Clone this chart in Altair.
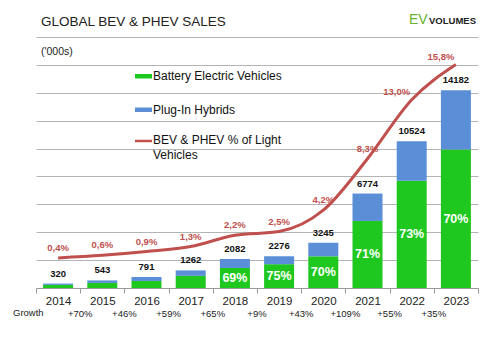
import altair as alt
import pandas as pd

years = ["2014", "2015", "2016", "2017", "2018", "2019", "2020", "2021", "2022", "2023"]
totals = [320, 543, 791, 1262, 2082, 2276, 3245, 6774, 10524, 14182]
bev_share = [0.70, 0.67, 0.64, 0.69, 0.69, 0.75, 0.70, 0.71, 0.73, 0.70]
share_labels = ["", "", "", "", "69%", "75%", "70%", "71%", "73%", "70%"]
ev_pct = [0.4, 0.6, 0.9, 1.3, 2.2, 2.5, 4.2, 8.3, 13.0, 15.8]
ev_pct_labels = ["0,4%", "0,6%", "0,9%", "1,3%", "2,2%", "2,5%", "4,2%", "8,3%", "13,0%", "15,8%"]
growth = ["", "+70%", "+46%", "+59%", "+65%", "+9%", "+43%", "+109%", "+55%", "+35%"]
series = ["Battery Electric Vehicles", "Plug-In Hybrids", "BEV & PHEV % of Light\nVehicles"]

GREEN = "#1ec81e"
BLUE = "#5a8ed6"
RED = "#c0504d"
FONT = "Liberation Sans"

bev = [round(t * s) for t, s in zip(totals, bev_share)]
phev = [t - b for t, b in zip(totals, bev)]

stack_df = pd.DataFrame({
    "year": years * 2,
    "series": [series[0]] * len(years) + [series[1]] * len(years),
    "value": bev + phev,
    "order": [0] * len(years) + [1] * len(years),
})
df = pd.DataFrame({
    "year": years, "total": totals, "bev_mid": [b / 2 for b in bev],
    "share": share_labels, "pct": ev_pct, "pct_label": ev_pct_labels, "growth": growth,
})

xenc = alt.X("year:O", title=None,
             scale=alt.Scale(paddingInner=0, paddingOuter=0),
             axis=alt.Axis(labelAngle=0, labelFont=FONT, labelFontSize=11.5, labelColor="#222",
                           domainColor="#999", tickColor="#999", tickSize=5, labelPadding=2,
                           tickBand="extent", grid=False))
yscale = alt.Scale(domain=[0, 18000])
pscale = alt.Scale(domain=[-2, 18])

bars = alt.Chart(stack_df).mark_bar(size=30).encode(
    x=xenc,
    y=alt.Y("value:Q", stack="zero", scale=yscale, title=None,
            axis=alt.Axis(values=list(range(0, 18001, 2000)), labels=False, ticks=False,
                          domain=False, gridColor="#b4b4b4", gridWidth=1)),
    color=alt.Color("series:N", scale=alt.Scale(domain=series[:2], range=[GREEN, BLUE]), legend=None),
    order=alt.Order("order:Q"),
)

base = alt.Chart(df)
tot_text = base.mark_text(dy=-10, font=FONT, fontSize=9.5, fontWeight="bold", color="#111").encode(
    x="year:O", y=alt.Y("total:Q", scale=yscale, axis=None), text="total:Q")
share_text = base.mark_text(font=FONT, fontSize=12.5, fontWeight="bold", color="white").encode(
    x="year:O", y=alt.Y("bev_mid:Q", scale=yscale, axis=None), text="share:N")

line = base.mark_line(color=RED, strokeWidth=3, interpolate="monotone").encode(
    x="year:O", y=alt.Y("pct:Q", scale=pscale, axis=None))
pct_a = base.transform_filter("datum.pct < 10").mark_text(
    dy=-10, font=FONT, fontSize=9.5, fontWeight="bold", color=RED).encode(
    x="year:O", y=alt.Y("pct:Q", scale=pscale, axis=None), text="pct_label:N")
pct_b = base.transform_filter("datum.pct >= 10").mark_text(
    dy=-8, dx=-15, font=FONT, fontSize=9.5, fontWeight="bold", color=RED).encode(
    x="year:O", y=alt.Y("pct:Q", scale=pscale, axis=None), text="pct_label:N")

growth_text = base.mark_text(font=FONT, fontSize=9.5, color="#222").encode(
    x=alt.X("year:O", bandPosition=0), y=alt.value(277), text="growth:N")


def note(txt, x, y, **kw):
    return alt.Chart(pd.DataFrame({"t": [txt]})).mark_text(
        align="left", baseline="middle", **kw).encode(text="t:N", x=alt.value(x), y=alt.value(y))


title = note("GLOBAL BEV & PHEV SALES", 5, -15, font=FONT, fontSize=13.5, color="#222")
unit = note("('000s)", 5, 15, font=FONT, fontSize=10.5, color="#222")
growth_lbl = note("Growth", -23, 276, font=FONT, fontSize=9.5, color="#222")
logo_ev = alt.Chart(pd.DataFrame({"t": ["EV"]})).mark_text(
    align="left", baseline="alphabetic", font=FONT,
    fontSize=14, color="#6ab42d").encode(text="t:N", x=alt.value(373), y=alt.value(-13))
logo_vol = alt.Chart(pd.DataFrame({"t": ["VOLUMES"]})).mark_text(
    align="left", baseline="alphabetic", font=FONT,
    fontSize=9.5, fontWeight="bold", color="#222").encode(text="t:N", x=alt.value(393), y=alt.value(-13))

leg1_sym = alt.Chart(pd.DataFrame({"t": [series[0]]})).mark_rect(color=GREEN).encode(
    x=alt.value(99), x2=alt.value(116), y=alt.value(37), y2=alt.value(41.5))
leg2_sym = alt.Chart(pd.DataFrame({"t": [series[1]]})).mark_rect(color=BLUE).encode(
    x=alt.value(99), x2=alt.value(116), y=alt.value(70.5), y2=alt.value(75))
leg3_sym = alt.Chart(pd.DataFrame({"t": [series[2]]})).mark_rule(color=RED, strokeWidth=2.5).encode(
    x=alt.value(99), x2=alt.value(116), y=alt.value(104))
leg1 = note(series[0], 117, 39, font=FONT, fontSize=12, color="#111")
leg2 = note(series[1], 117, 72.5, font=FONT, fontSize=12, color="#111")
leg3 = alt.Chart(pd.DataFrame({"t": [series[2]]})).mark_text(
    align="left", baseline="top", lineBreak="\n", lineHeight=15, font=FONT, fontSize=12,
    color="#111").encode(text="t:N", x=alt.value(117), y=alt.value(98))

chart = alt.layer(
    bars, tot_text, share_text, line, pct_a, pct_b, growth_text,
    title, unit, growth_lbl, logo_ev, logo_vol,
    leg1_sym, leg2_sym, leg3_sym, leg1, leg2, leg3,
).resolve_scale(y="independent").properties(
    width=442, height=251, autosize="none",
    padding={"left": 36, "top": 37, "right": 21, "bottom": 57},
    background="white",
).configure_view(stroke=None)

chart.save("out.html", embed_options={"renderer": "svg", "actions": False})
